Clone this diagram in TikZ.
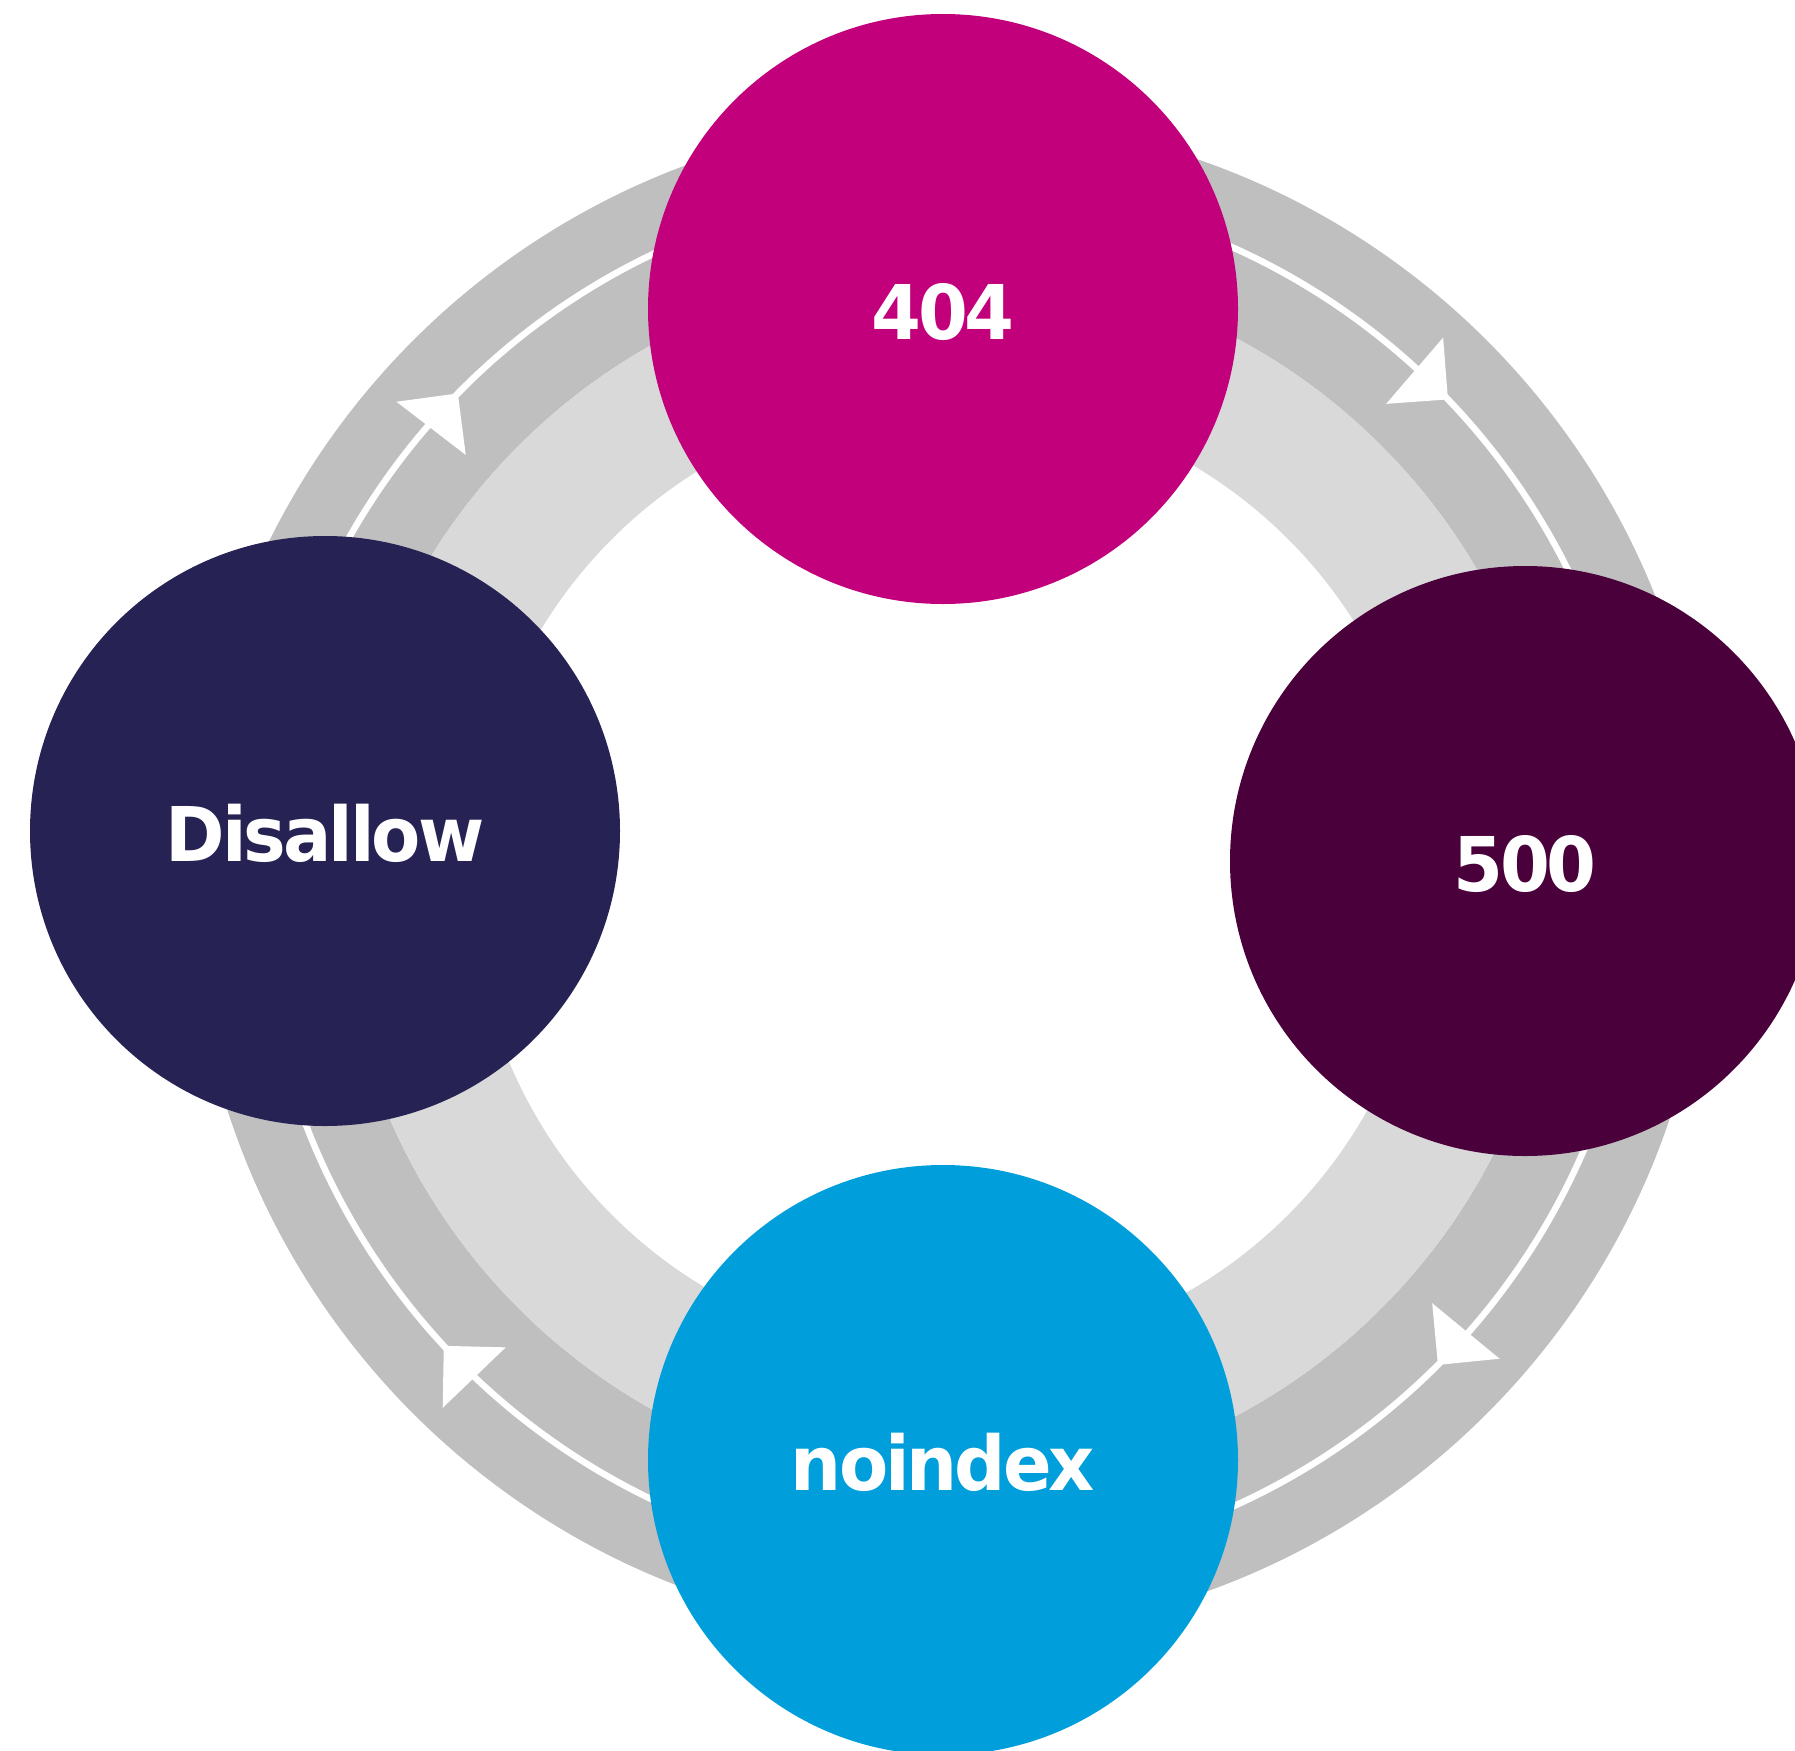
\documentclass[tikz,border=0pt]{standalone}
\usepackage{fontspec}
\setmainfont{DejaVu Sans}[FakeStretch=0.95, LetterSpace=-4]
\usetikzlibrary{arrows.meta,decorations.markings}
\definecolor{ringdark}{HTML}{BFBFBF}
\definecolor{ringlight}{HTML}{D9D9D9}
\definecolor{magentaA}{HTML}{C2007C}
\definecolor{navyA}{HTML}{262354}
\definecolor{plumA}{HTML}{4A003A}
\definecolor{cyanA}{HTML}{009FDB}
\tikzset{
	stage/.style={circle, minimum size=295pt, inner sep=0pt, text=white,
		font=\fontsize{37.75}{45}\selectfont\bfseries, text height=30pt, text depth=0pt},
	flow/.style={white, line width=3.2pt, postaction={decorate},
		decoration={markings, mark=at position 0.5 with {\pgftransformrotate{#1}\arrow{Triangle[length=22pt,width=43pt]}}}},
	flow/.default=0
}
\begin{document}
\begin{tikzpicture}[x=0.5pt, y=0.5pt, line join=round]
		\def\rin{478} \def\rmid{610} \def\rwht{690} \def\rout{759} % ring radii
		\useasboundingbox (0,0) rectangle (1795,-1751);
		\clip (0,0) rectangle (1795,-1751);
		\coordinate (c) at (950,-877);
		\fill[ringdark, even odd rule] (c) circle[radius=\rout] (c) circle[radius=\rmid];
		\fill[ringlight, even odd rule] (c) circle[radius=\rmid] (c) circle[radius=\rin];
		% cycle arrows, clockwise
		\draw[flow=7] ([shift={(180.5:\rwht)}]c) arc[start angle=180.5, end angle=90.5, radius=\rwht];
		\draw[flow=5.5] ([shift={(88.8:\rwht)}]c) arc[start angle=88.8, end angle=-1.2, radius=\rwht];
		\draw[flow=5.5] ([shift={(0:\rwht)}]c) arc[start angle=0, end angle=-90, radius=\rwht];
		\draw[flow=1] ([shift={(-92.2:\rwht)}]c) arc[start angle=-92.2, end angle=-182.2, radius=\rwht];
		\node[stage, fill=magentaA] (s404) at (943,-309) {404};
		\node[stage, fill=navyA] (disallow) at (325,-831) {Disallow};
		\node[stage, fill=plumA] (s500) at (1525,-861) {500};
		\node[stage, fill=cyanA] (noindex) at (943,-1460) {noindex};
\end{tikzpicture}
\end{document}
